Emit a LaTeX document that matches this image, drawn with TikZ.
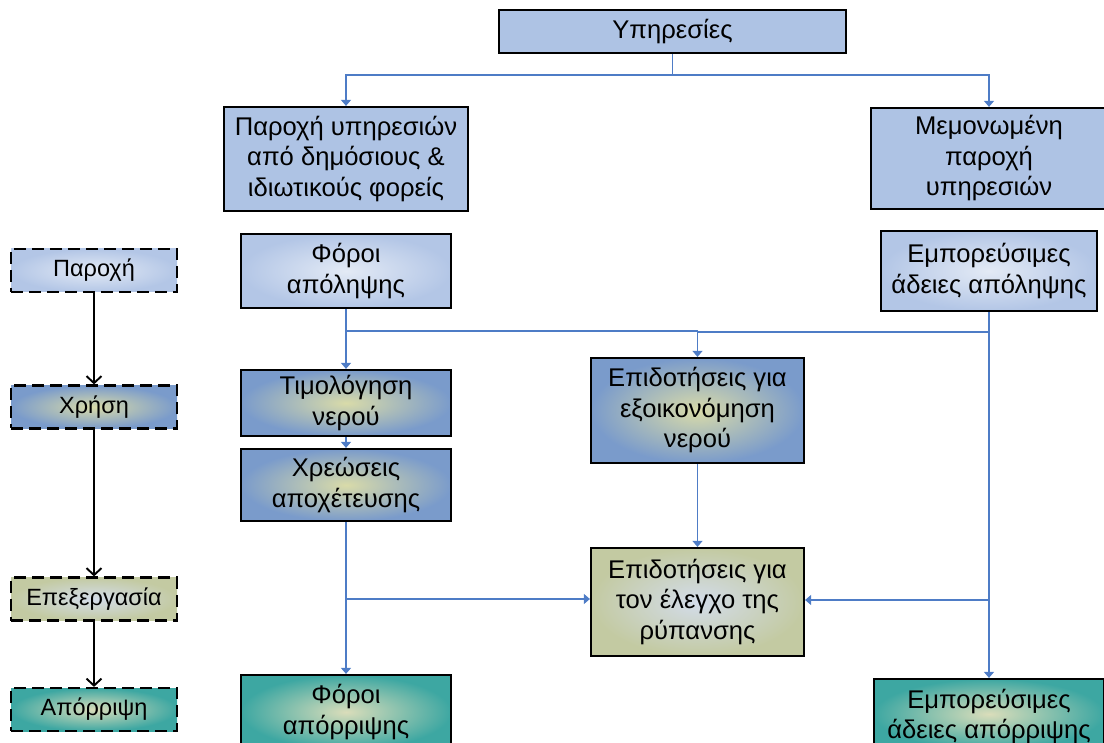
\documentclass[tikz,border=0pt]{standalone}
\usepackage{fontspec}
\setmainfont{Liberation Sans}
\usetikzlibrary{arrows.meta,calc}

\definecolor{plainblue}{HTML}{AEC3E4}
\definecolor{paleedge}{HTML}{B3C6E6}
\definecolor{palecore}{HTML}{E3EAF5}
\definecolor{midedge}{HTML}{7A9BCB}
\definecolor{midcore}{HTML}{D9DBA9}
\definecolor{oliveedge}{HTML}{C3CAA2}
\definecolor{olivecore}{HTML}{D3DCEA}
\definecolor{tealedge}{HTML}{3DA7A2}
\definecolor{tealcore}{HTML}{DADDBA}
\definecolor{linkblue}{HTML}{4E7CC6}

\tikzset{
  box/.style={draw=black, line width=2.2pt, align=center, inner sep=0pt,
    font=\fontsize{25.6}{30.5}\selectfont},
  stage/.style={draw=black, line width=2.2pt, dash pattern=on 12pt off 6pt,
    align=center, inner sep=0pt, minimum width=166pt, minimum height=43pt,
    font=\fontsize{23.5}{27}\selectfont},
  plain/.style={fill=plainblue},
  pale/.style={inner color=palecore, outer color=paleedge},
  mid/.style={inner color=midcore, outer color=midedge},
  olive/.style={inner color=olivecore, outer color=oliveedge},
  teal/.style={inner color=tealcore, outer color=tealedge},
  link/.style={draw=linkblue, line width=1.1pt},
  linkarrow/.style={link, -{Triangle[width=10pt,length=6pt]}},
  flow/.style={draw=black, line width=1.9pt,
    -{Straight Barb[width=15pt,length=7pt,line width=1.9pt]}}
}

\begin{document}
\begin{tikzpicture}[x=1pt, y=-1pt]
  \useasboundingbox (0,0) rectangle (1104,743);

  % stages of the water cycle
  \node[stage, pale]  (sprov)  at (94,270.5) {Παροχή};
  \node[stage, mid]   (suse)   at (94,407)   {Χρήση};
  \node[stage, olive] (sproc)  at (94,599)   {Επεξεργασία};
  \node[stage, teal]  (sdisp)  at (94,709.5) {Απόρριψη};

  \draw[flow] (sprov.south) -- (suse.north);
  \draw[flow] (suse.south)  -- (sproc.north);
  \draw[flow] (sproc.south) -- (sdisp.north);

  % services
  \node[box, plain, minimum width=347pt, minimum height=43pt] (serv) at (672.5,31.5) {Υπηρεσίες};
  \node[box, plain, minimum width=244pt, minimum height=104pt] (pubpriv) at (346,159)
    {Παροχή υπηρεσιών\\από δημόσιους \&\\ιδιωτικούς φορείς};
  \node[box, plain, minimum width=236pt, minimum height=101pt] (single) at (989,158.5)
    {Μεμονωμένη\\παροχή\\υπηρεσιών};

  % instruments
  \node[box, pale, minimum width=210pt, minimum height=74pt] (abstax) at (346,271)
    {Φόροι\\απόληψης};
  \node[box, pale, minimum width=216pt, minimum height=80pt] (absperm) at (989,271)
    {Εμπορεύσιμες\\άδειες απόληψης};
  \node[box, mid, minimum width=210pt, minimum height=66pt] (pricing) at (346,403)
    {Τιμολόγηση\\νερού};
  \node[box, mid, minimum width=210pt, minimum height=72pt] (sewer) at (346,485)
    {Χρεώσεις\\αποχέτευσης};
  \node[box, mid, minimum width=213pt, minimum height=105pt] (saving) at (697.5,410.5)
    {Επιδοτήσεις για\\εξοικονόμηση\\νερού};
  \node[box, olive, minimum width=213pt, minimum height=108pt] (pollut) at (697.5,602)
    {Επιδοτήσεις για\\τον έλεγχο της\\ρύπανσης};
  \node[box, teal, minimum width=210pt, minimum height=74pt] (distax) at (346,712)
    {Φόροι\\απόρριψης};
  \node[box, teal, minimum width=230pt, minimum height=70pt, text depth=0pt] (disperm) at (989,714)
    {Εμπορεύσιμες\\άδειες απόρριψης};

  % junction points
  \coordinate (jserv) at (672.5,75);
  \coordinate (jtax)  at (346,331);
  \coordinate (jperm) at (989,332);
  \coordinate (jsew)  at (346,599);
  \coordinate (jdis)  at (989,600);

  % connectors
  \draw[link] (serv.south) -- (jserv);
  \draw[linkarrow] (jserv) -| (pubpriv.north);
  \draw[linkarrow] (jserv) -| (single.north);

  \draw[link] (abstax.south) -- (jtax);
  \draw[linkarrow] (jtax) -- (pricing.north);
  \draw[linkarrow] (jtax) -| (saving.north);

  \draw[link] (absperm.south) -- (jperm) -- (jperm -| saving.north);
  \draw[linkarrow] (jperm) -- (disperm.north);
  \draw[linkarrow] (jdis) -- (pollut.east |- jdis);

  \draw[linkarrow] (pricing.south) -- (sewer.north);
  \draw[linkarrow] (sewer.south) -- (distax.north);
  \draw[linkarrow] (jsew) -- (pollut.west |- jsew);

  \draw[linkarrow] (saving.south) -- (pollut.north);
\end{tikzpicture}
\end{document}
